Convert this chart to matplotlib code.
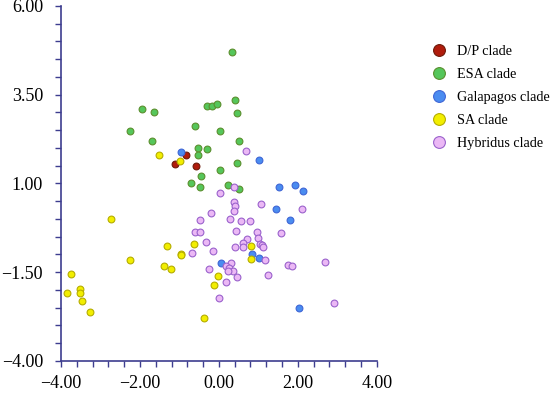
import matplotlib
matplotlib.use("Agg")
import matplotlib.pyplot as plt
from matplotlib.lines import Line2D
from matplotlib.ticker import MultipleLocator, FuncFormatter

# clade scores
esa_x = [0.34, -1.96, -1.64, -0.29, -0.18, -0.05, 0.42, 0.45, -0.61, -2.25, 0.04,
         -1.69, 0.51, -0.52, -0.29, -0.54, 0.46, 0.04, -0.45, -0.70, -0.49, 0.22, 0.51]
esa_y = [4.70, 3.09, 3.00, 3.18, 3.19, 3.24, 3.35, 2.99, 2.63, 2.47, 2.47,
         2.20, 2.19, 1.99, 1.97, 1.79, 1.57, 1.39, 1.22, 1.02, 0.90, 0.95, 0.85]

dp_x = [-0.84, -1.12, -0.58]
dp_y = [1.79, 1.54, 1.48]

gal_x = [-0.97, 1.01, 1.53, 1.93, 2.13, 1.44, 1.81, 0.06, 0.84, 1.01, 2.02]
gal_y = [1.89, 1.67, 0.90, 0.96, 0.78, 0.27, -0.04, -1.25, -0.99, -1.10, -2.50]

sa_x = [-1.51, -0.99, -2.73, -3.76, -3.85, -3.52, -3.52, -3.48, -3.27, -2.25, -1.40,
        -1.22, -1.32, -0.95, -0.97, -0.64, -0.02, -0.13, -0.39, 0.82, 0.82]
sa_y = [1.79, 1.63, -0.01, -1.55, -2.09, -1.98, -2.08, -2.30, -2.62, -1.16, -1.33,
        -1.40, -0.76, -0.99, -1.03, -0.70, -1.60, -1.86, -2.79, -0.76, -1.14]

hyb_x = [0.68, 0.03, 0.38, 0.39, 0.41, 0.39, 1.06, -0.19, -0.48, 0.29, 0.56, 0.78,
         2.11, 1.57, -0.60, -0.48, 0.44, 0.97, -0.33, 0.72, 0.60, 0.99, 1.05, 1.08,
         0.41, 0.60, 1.12, -0.16, -0.68, 1.18, 0.30, 0.18, 0.25, 0.35, 0.22, -0.26,
         0.46, 0.18, -0.01, 1.25, 1.75, 1.84, 2.70, 2.92]
hyb_y = [1.92, 0.74, 0.91, 0.49, 0.35, 0.21, 0.43, 0.16, -0.03, 0.00, -0.06, -0.05,
         0.27, -0.39, -0.37, -0.37, -0.34, -0.37, -0.64, -0.58, -0.68, -0.55, -0.70, -0.73,
         -0.78, -0.78, -0.79, -0.89, -0.97, -1.16, -1.23, -1.32, -1.39, -1.46, -1.46, -1.42,
         -1.64, -1.79, -2.22, -1.59, -1.30, -1.34, -1.21, -2.37]

labels = ["D/P clade", "ESA clade", "Galapagos clade", "SA clade", "Hybridus clade"]
x_ticks = [-4, -2, 0, 2, 4]
y_ticks = [-4, -1.5, 1, 3.5, 6]

fills = ["#b01c0c", "#55c65a", "#4a8cf0", "#f2ee00", "#ebb8f5"]
edges = ["#6e1a0a", "#5b8f2e", "#3f66d6", "#b5ad00", "#9a62cc"]

plt.rcParams["font.family"] = ["Liberation Serif", "DejaVu Serif"]
axis_col = "#3d3d8f"

fig = plt.figure(figsize=(5.5, 3.94), dpi=100)
ax = fig.add_axes([0.111, 0.084, 0.574, 0.901])

series = [(dp_x, dp_y), (esa_x, esa_y), (gal_x, gal_y), (sa_x, sa_y), (hyb_x, hyb_y)]
for (xs, ys), fc, ec in zip(series, fills, edges):
    ax.scatter(xs, ys, s=24, c=fc, edgecolors=ec, linewidths=0.8, zorder=3)

ax.set_xlim(-4, 4)
ax.set_ylim(-4, 6)
ax.set_xticks(x_ticks)
ax.set_yticks(y_ticks)
ax.xaxis.set_minor_locator(MultipleLocator(0.4))
ax.yaxis.set_minor_locator(MultipleLocator(0.5))
fmt = FuncFormatter(lambda v, pos: f"{v:.2f}".replace("-", "\u2212"))
ax.xaxis.set_major_formatter(fmt)
ax.yaxis.set_major_formatter(fmt)

for side in ["top", "right"]:
    ax.spines[side].set_visible(False)
for side in ["left", "bottom"]:
    ax.spines[side].set_color(axis_col)
    ax.spines[side].set_linewidth(1.2)

ax.tick_params(which="both", direction="out", length=4, width=1.0, color=axis_col)
ax.tick_params(axis="y", which="major", labelsize=13, pad=9)
ax.tick_params(axis="x", which="major", labelsize=13, pad=6)

handles = [Line2D([], [], marker="o", linestyle="", markersize=8.5,
                  markerfacecolor=fc, markeredgecolor=ec, markeredgewidth=0.8)
           for fc, ec in zip(fills, edges)]
fig.legend(handles, labels, loc="upper left", bbox_to_anchor=(0.786, 0.886),
           frameon=False, fontsize=10.2, handlelength=1.0, handletextpad=0.75,
           labelspacing=0.7, borderpad=0, borderaxespad=0)

fig.savefig("out.png", dpi=100)
